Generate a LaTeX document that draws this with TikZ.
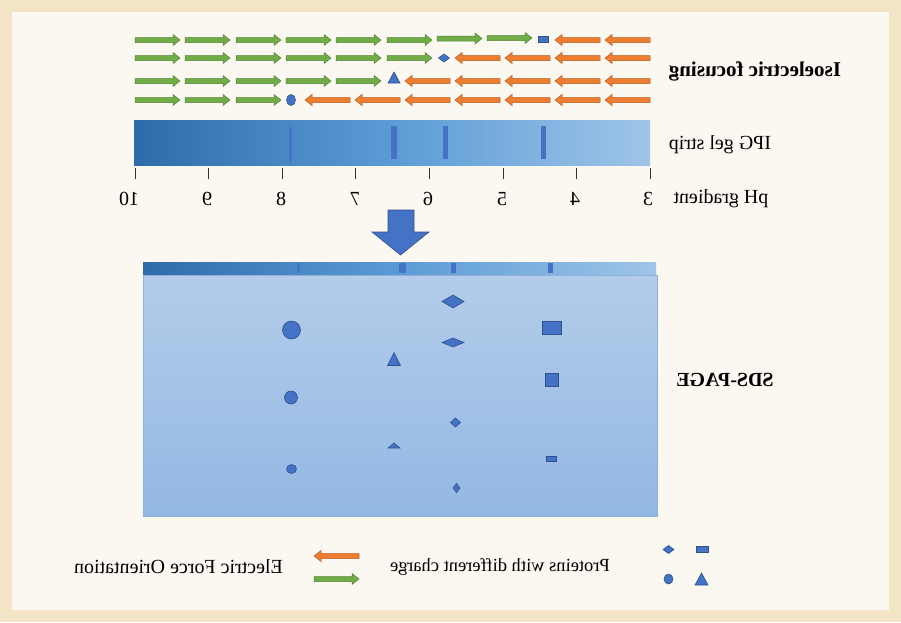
\documentclass[tikz,border=0pt]{standalone}
\usepackage{fontspec}
\setmainfont{Liberation Serif}
\usetikzlibrary{shapes.geometric}
\definecolor{tanbg}{HTML}{F4E4C6}
\definecolor{creambg}{HTML}{FBF7F1}
\definecolor{gfill}{HTML}{70AD47}
\definecolor{gline}{HTML}{548235}
\definecolor{ofill}{HTML}{ED7D31}
\definecolor{oline}{HTML}{B55D22}
\definecolor{bfill}{HTML}{4472C4}
\definecolor{bline}{HTML}{2F528F}
\definecolor{stripL}{HTML}{2E6CA9}
\definecolor{stripM}{HTML}{5B9BD5}
\definecolor{stripR}{HTML}{9FC5E8}
\definecolor{gelT}{HTML}{B3CCEA}
\definecolor{gelB}{HTML}{93B8E3}
\definecolor{gelline}{HTML}{8EAEDB}
\tikzset{
  garrow/.style={fill=gfill,draw=gline,line width=0.5pt},
  oarrow/.style={fill=ofill,draw=oline,line width=0.5pt},
  bshape/.style={fill=bfill,draw=bline,line width=0.6pt},
  band/.style={fill=bfill,draw=none},
  lbl/.style={inner sep=0pt,font=\fontsize{20}{24}\selectfont},
  numlbl/.style={inner sep=0pt,font=\fontsize{20}{24}\selectfont},
  tickline/.style={draw=black!80,line width=0.6pt}
}
\newcommand{\rarr}[2]{\draw[garrow] (#1,#2-2.5) -- (#1+38,#2-2.5) -- (#1+38,#2-5.5) -- (#1+45,#2) -- (#1+38,#2+5.5) -- (#1+38,#2+2.5) -- (#1,#2+2.5) -- cycle;}
\newcommand{\larr}[2]{\draw[oarrow] (#1+45,#2-2.5) -- (#1+7,#2-2.5) -- (#1+7,#2-5.5) -- (#1,#2) -- (#1+7,#2+5.5) -- (#1+7,#2+2.5) -- (#1+45,#2+2.5) -- cycle;}
\newcommand{\diam}[4]{\draw[bshape] (#1-#3/2,#2) -- (#1,#2-#4/2) -- (#1+#3/2,#2) -- (#1,#2+#4/2) -- cycle;}
\newcommand{\rectshape}[4]{\draw[bshape] (#1-#3/2,#2-#4/2) rectangle (#1+#3/2,#2+#4/2);}
\newcommand{\ellshape}[4]{\draw[bshape] (#1,#2) ellipse [x radius=#3/2, y radius=#4/2];}
\newcommand{\trishape}[4]{\draw[bshape] (#1-#3/2,#2+#4/2) -- (#1,#2-#4/2) -- (#1+#3/2,#2+#4/2) -- cycle;}
\begin{document}
\begin{tikzpicture}[x=1pt,y=-1pt]
\useasboundingbox (0,0) rectangle (901,622);
\fill[tanbg] (0,0) rectangle (901,622);
\fill[creambg] (12,12) rectangle (889,610);

% Isoelectric focusing rows
\foreach \x in {135,185,236,286,336,387} {\rarr{\x}{40}}
\rarr{437}{38.5}\rarr{487}{38}
\rectshape{543}{39.5}{10}{6}
\foreach \x in {555,605} {\larr{\x}{40}}

\foreach \x in {135,185,236,286,336,387} {\rarr{\x}{58}}
\diam{444}{58}{11}{8}
\foreach \x in {455,505,555,605} {\larr{\x}{58}}

\foreach \x in {135,185,236,286,336} {\rarr{\x}{81}}
\trishape{394}{77.5}{12}{11}
\foreach \x in {405,455,505,555,605} {\larr{\x}{81}}

\foreach \x in {135,185,236} {\rarr{\x}{100}}
\ellshape{291}{100}{9}{11}
\foreach \x in {305,355,405,455,505,555,605} {\larr{\x}{100}}

\node[lbl,font=\fontsize{21}{24}\selectfont\bfseries] (ief) at (755,71) {\reflectbox{Isoelectric focusing}};

% IPG strip
\shade[left color=stripL,right color=stripR,middle color=stripM] (134,120) rectangle (650,165);
\node[inner sep=0pt,minimum width=516pt,minimum height=45pt] (ipg) at (392,142.5) {};
\fill[band] (288.5,127) rectangle (291.5,162);
\fill[band] (390.5,126) rectangle (397,159);
\fill[band] (443,126) rectangle (448,159);
\fill[band] (541,126) rectangle (546,159);
\node[lbl] (ipgl) at (720,145) {\reflectbox{IPG gel strip}};

% ticks and numbers
\foreach \v [count=\i from 0] in {10,9,8,7,6,5,4,3} {
  \pgfmathsetmacro{\tx}{135+73.57*\i}
  \draw[tickline] (\tx,168) -- (\tx,179);
}
\node[numlbl] (n10) at (129,199) {\reflectbox{10}};
\node[numlbl] (n9) at (207,199) {\reflectbox{9}};
\node[numlbl] (n8) at (281,199) {\reflectbox{8}};
\node[numlbl] (n7) at (355,199) {\reflectbox{7}};
\node[numlbl] (n6) at (428,199) {\reflectbox{6}};
\node[numlbl] (n5) at (502,199) {\reflectbox{5}};
\node[numlbl] (n4) at (575,199) {\reflectbox{4}};
\node[numlbl] (n3) at (648,199) {\reflectbox{3}};
\node[lbl] (phl) at (721,199) {\reflectbox{pH gradient}};

% big down arrow
\draw[bshape] (388,210) -- (414,210) -- (414,232) -- (429,232) -- (400.5,255) -- (372,232) -- (388,232) -- cycle;

% SDS-PAGE
\shade[left color=stripL,right color=stripR,middle color=stripM] (143,262) rectangle (656,274);
\fill[band] (297,263) rectangle (300,273);
\fill[band] (398.5,263) rectangle (405.5,273);
\fill[band] (451,263) rectangle (456,273);
\fill[band] (548,263) rectangle (553,273);
\shade[top color=gelT,bottom color=gelB,draw=gelline,line width=0.6pt] (143,275) rectangle (657,516);
\node[inner sep=0pt,minimum width=514pt,minimum height=241pt] (gel) at (400,395.5) {};
\node[lbl,font=\fontsize{20}{24}\selectfont\bfseries] (sdsl) at (725,380) {\reflectbox{SDS-PAGE}};

\ellshape{291.5}{330}{18}{18}
\ellshape{291}{397.5}{13}{13}
\ellshape{291.5}{469}{10}{9}
\trishape{394}{359}{13}{13}
\trishape{394}{445.5}{12}{5}
\diam{453}{301.5}{22}{13}
\diam{453}{342.5}{22}{9}
\diam{455.5}{422.5}{10}{9}
\diam{456.5}{488}{7}{9}
\rectshape{552}{327.5}{19}{13}
\rectshape{552}{380}{13}{13}
\rectshape{551.5}{459}{10}{5}

% legend
\larr{314}{556}
\rarr{314}{579}
\node[lbl] (efo) at (178.5,567) {\reflectbox{Electric Force Orientation}};
\node[lbl,font=\fontsize{18.5}{22}\selectfont] (pdc) at (500,567) {\reflectbox{Proteins with different charge}};
\diam{668.5}{549.5}{11}{8}
\rectshape{702.5}{549.5}{12}{6}
\ellshape{668.5}{579}{9}{10}
\trishape{701.5}{579}{13}{12}
\end{tikzpicture}
\end{document}
